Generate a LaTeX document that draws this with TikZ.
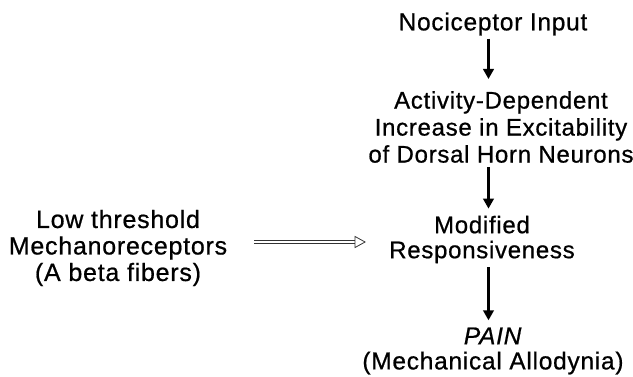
\documentclass[tikz,border=0pt]{standalone}
\usepackage{fontspec}
\setmainfont{Liberation Sans}[LetterSpace=3, FakeBold=0.7]
\usetikzlibrary{arrows.meta,calc}
\begin{document}
\begin{tikzpicture}[x=1pt,y=-1pt,
  txt/.style={align=center, inner sep=0pt},
  arr/.style={line width=2.4pt, -{Triangle[length=10pt,width=10.5pt]}},
  dbl/.style={draw=black!80, double=white, double distance=2.4pt, line width=0.8pt},
  dblhead/.style={draw=black!80, line width=0.8pt, fill=white, line join=miter}]
\useasboundingbox[fill=white] (0,0) rectangle (633,377);
\node[txt, font=\fontsize{24.5}{27}\selectfont] (noc) at (493,24) {Nociceptor Input};
\node[txt, font=\fontsize{24}{27}\selectfont] (act) at (501,127) {Activity-Dependent\\Increase in Excitability\\of Dorsal Horn Neurons};
\node[txt, font=\fontsize{24}{25}\selectfont] (mod) at (482,239.5) {Modified\\Responsiveness};
\node[txt, font=\fontsize{25}{26.5}\selectfont] (low) at (118,248) {Low threshold\\Mechanoreceptors\\(A beta fibers)};
\node[txt, font=\fontsize{24.5}{25}\selectfont] (pain) at (493,351) {\textit{PAIN}\\(Mechanical Allodynia)};
\coordinate (ax) at (488.5,0);
\coordinate (dy) at (0,242);
\draw[arr, shorten <=3pt, shorten >=12pt] (noc.south -| ax) -- (act.north -| ax);
\draw[arr, shorten <=4pt, shorten >=7pt] (act.south -| ax) -- (mod.north -| ax);
\draw[arr, shorten <=4pt, shorten >=7pt] (mod.south -| ax) -- (pain.north -| ax);
\coordinate (dA) at (254,242);
\coordinate (dB) at ($(mod.west |- dy)+(-24,0)$);
\draw[dbl] (dA) -- ($(dB)+(-7,0)$);
\draw[dblhead] (dB) -- ++(-10,-5.5) -- ++(0,11) -- cycle;
\end{tikzpicture}
\end{document}
